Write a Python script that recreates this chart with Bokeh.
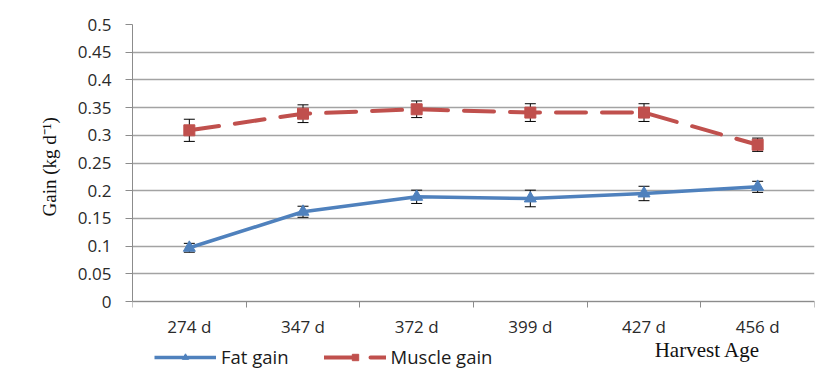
from bokeh.plotting import figure
from bokeh.models import (ColumnDataSource, FixedTicker, Whisker, TeeHead,
                          Legend, LegendItem, Label, Title)
from bokeh.core.properties import value
from bokeh.embed import file_html
from bokeh.resources import INLINE

categories = ["274 d", "347 d", "372 d", "399 d", "427 d", "456 d"]
fat_gain = [0.097, 0.162, 0.189, 0.186, 0.195, 0.207]
fat_err = [0.008, 0.010, 0.012, 0.015, 0.013, 0.010]
muscle_gain = [0.309, 0.339, 0.347, 0.341, 0.341, 0.283]
muscle_err = [0.020, 0.016, 0.015, 0.016, 0.016, 0.012]
y_ticks = [0, 0.05, 0.1, 0.15, 0.2, 0.25, 0.3, 0.35, 0.4, 0.45, 0.5]
y_tick_labels = ["0", "0.05", "0.1", "0.15", "0.2", "0.25", "0.3", "0.35", "0.4", "0.45", "0.5"]

BLUE = "#4F81BD"
RED = "#C0504D"
FONT = "Open Sans"
SERIF = "Liberation Serif"
TXT = "#2a2a2a"

xs = [i + 0.5 for i in range(len(categories))]
src = ColumnDataSource(dict(
    x=xs, fat=fat_gain, muscle=muscle_gain, cat=categories,
    zero=[0.0] * len(categories),
    fat_lo=[v - e for v, e in zip(fat_gain, fat_err)],
    fat_hi=[v + e for v, e in zip(fat_gain, fat_err)],
    mus_lo=[v - e for v, e in zip(muscle_gain, muscle_err)],
    mus_hi=[v + e for v, e in zip(muscle_gain, muscle_err)],
))

# the frame reaches down to the bottom so that the category labels,
# the legend and "Harvest Age" lie inside it; the y axis is bounded to 0..0.5
p = figure(width=819, height=370, output_backend="svg", toolbar_location=None,
           x_range=(0, len(categories)), y_range=(-0.1245, 0.5),
           x_axis_location="above",
           min_border_left=132, min_border_right=5, min_border_top=24,
           min_border_bottom=0)
p.outline_line_color = None
p.background_fill_color = "white"
p.border_fill_color = "white"

# grid
p.xgrid.grid_line_color = None
p.ygrid.grid_line_color = "#a3a3a3"
p.ygrid.grid_line_width = 1.3

# y axis
p.yaxis.ticker = FixedTicker(ticks=y_ticks, minor_ticks=[])
p.yaxis.bounds = (0, 0.5)
p.yaxis.major_label_overrides = {t: l for t, l in zip(y_ticks, y_tick_labels)}
p.yaxis.axis_line_color = "#8c8c8c"
p.yaxis.major_tick_line_color = "#8c8c8c"
p.yaxis.major_tick_out = 7
p.yaxis.major_tick_in = 0
p.yaxis.major_label_standoff = 14
p.yaxis.major_label_text_font = FONT
p.yaxis.major_label_text_font_size = "17px"
p.yaxis.major_label_text_color = TXT

# y axis title, placed beside the bounded axis
p.add_layout(Title(text="Gain (kg d\u207b\u00b9)", align="left", offset=154,
                   standoff=30, text_font=SERIF, text_font_style="normal",
                   text_font_size="19px", text_color="#111111"), "left")

# x axis: line at y = 0 with ticks at the category boundaries
p.xaxis.fixed_location = 0
p.xaxis.ticker = FixedTicker(ticks=[], minor_ticks=list(range(len(categories) + 1)))
p.xaxis.axis_line_color = "#8c8c8c"
p.xaxis.major_tick_line_color = None
p.xaxis.major_tick_out = 0
p.xaxis.major_tick_in = 0
p.xaxis.minor_tick_line_color = "#8c8c8c"
p.xaxis.minor_tick_out = 0
p.xaxis.minor_tick_in = 6
p.xaxis.major_label_standoff = 0
p.xaxis.major_label_text_font_size = "0px"

# category labels under the axis
p.text(x="x", y="zero", text="cat", source=src, y_offset=25,
       text_font=value(FONT), text_font_size="17px", text_color=TXT,
       text_align="center", text_baseline="middle")

# lines
r_fat_line = p.line("x", "fat", source=src, line_color=BLUE, line_width=3.5)
r_mus_line = p.line("x", "muscle", source=src, line_color=RED, line_width=4,
                    line_dash="30 16", line_cap="round")

# error bars
for lo, hi in (("fat_lo", "fat_hi"), ("mus_lo", "mus_hi")):
    w = Whisker(base="x", lower=lo, upper=hi, source=src,
                line_color="black", line_width=1,
                upper_head=TeeHead(size=11, line_color="black", line_width=1),
                lower_head=TeeHead(size=11, line_color="black", line_width=1))
    p.add_layout(w)

r_fat_mk = p.scatter("x", "fat", source=src, marker="triangle", size=12,
                     fill_color=BLUE, line_color=BLUE)
r_mus_mk = p.scatter("x", "muscle", source=src, marker="square", size=11,
                     fill_color=RED, line_color=RED)

legend = Legend(items=[
    LegendItem(label="Fat gain", renderers=[r_fat_line, r_fat_mk]),
    LegendItem(label="Muscle gain", renderers=[r_mus_line, r_mus_mk]),
], orientation="horizontal", location=(22, 1))
legend.background_fill_alpha = 0
legend.border_line_color = None
legend.padding = 0
legend.margin = 0
legend.spacing = 35
legend.glyph_width = 62
legend.glyph_height = 16
legend.label_height = 20
legend.label_standoff = 5
legend.label_text_font = FONT
legend.label_text_font_size = "18.5px"
legend.label_text_color = "#1a1a1a"
p.add_layout(legend, "center")

p.add_layout(Label(x=5.058, y=-0.0884, text="Harvest Age", text_font=SERIF,
                   text_font_size="21px", text_align="center",
                   text_baseline="middle", text_color="#111111"))

open("out.html", "w").write(file_html(p, INLINE))
